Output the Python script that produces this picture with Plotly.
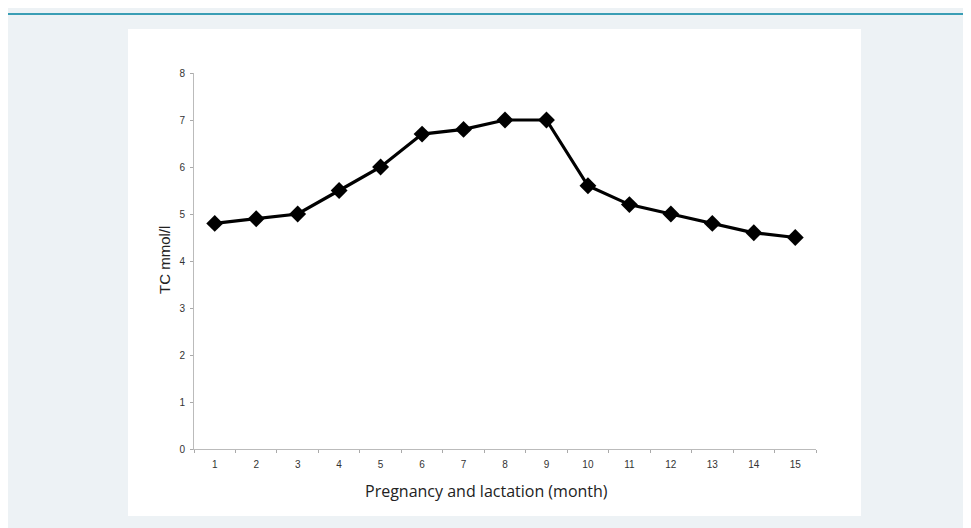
import plotly.graph_objects as go

months = [str(i) for i in range(1, 16)]
tc_values = [4.8, 4.9, 5.0, 5.5, 6.0, 6.7, 6.8, 7.0, 7.0, 5.6, 5.2, 5.0, 4.8, 4.6, 4.5]
y_ticks = [0, 1, 2, 3, 4, 5, 6, 7, 8]

OFF = 8  # browser body margin
W, H = 971 - OFF, 528 - OFF
L, R, T, B = 194 - OFF, 971 - 816, 73 - OFF, 528 - 449


def px_x(p):
    return (p - OFF - L) / (W - L - R)


def px_y(p):
    return (H - B - (p - OFF)) / (H - T - B)


fig = go.Figure()
fig.add_trace(go.Scatter(
    x=months, y=tc_values, mode="lines+markers",
    line=dict(color="black", width=3.2),
    marker=dict(symbol="diamond", size=13, color="black"),
    showlegend=False, cliponaxis=False,
))

fig.update_layout(
    width=W, height=H,
    margin=dict(l=L, r=R, t=T, b=B),
    paper_bgcolor="#edf2f5",
    plot_bgcolor="white",
    font=dict(family="Arial, Liberation Sans", color="#333"),
    shapes=[
        dict(type="rect", xref="paper", yref="paper",
             x0=px_x(128), x1=px_x(861), y0=px_y(29), y1=px_y(516),
             fillcolor="white", line=dict(width=0), layer="below"),
        dict(type="line", xref="paper", yref="paper",
             x0=px_x(8), x1=px_x(971), y0=px_y(14), y1=px_y(14),
             line=dict(color="#3a9eb5", width=2)),
    ],
    annotations=[
        dict(text="Pregnancy and lactation (month)", xref="paper", yref="paper",
             x=px_x(486), y=px_y(491), showarrow=False,
             xanchor="center", yanchor="middle",
             font=dict(family="Open Sans", size=16, color="#222")),
        dict(text="TC mmol/l", xref="paper", yref="paper",
             x=px_x(164), y=px_y(260), showarrow=False, textangle=-90,
             xanchor="center", yanchor="middle",
             font=dict(family="Arial, Liberation Sans", size=15, color="#222")),
    ],
    xaxis=dict(
        type="category", range=[-0.5, 14.5], tickson="boundaries",
        ticks="outside", ticklen=3, ticklabelstandoff=6,
        tickcolor="#aaa", showline=True, linecolor="#bbb", linewidth=1,
        showgrid=False, zeroline=False,
        tickfont=dict(size=10, color="#333"),
    ),
    yaxis=dict(
        range=[0, 8], tickvals=y_ticks, ticks="outside", ticklen=3,
        ticklabelstandoff=3,
        tickcolor="#aaa", showline=True, linecolor="#bbb", linewidth=1,
        showgrid=False, zeroline=False,
        tickfont=dict(size=10, color="#333"),
    ),
)

fig.write_html("out.html")
